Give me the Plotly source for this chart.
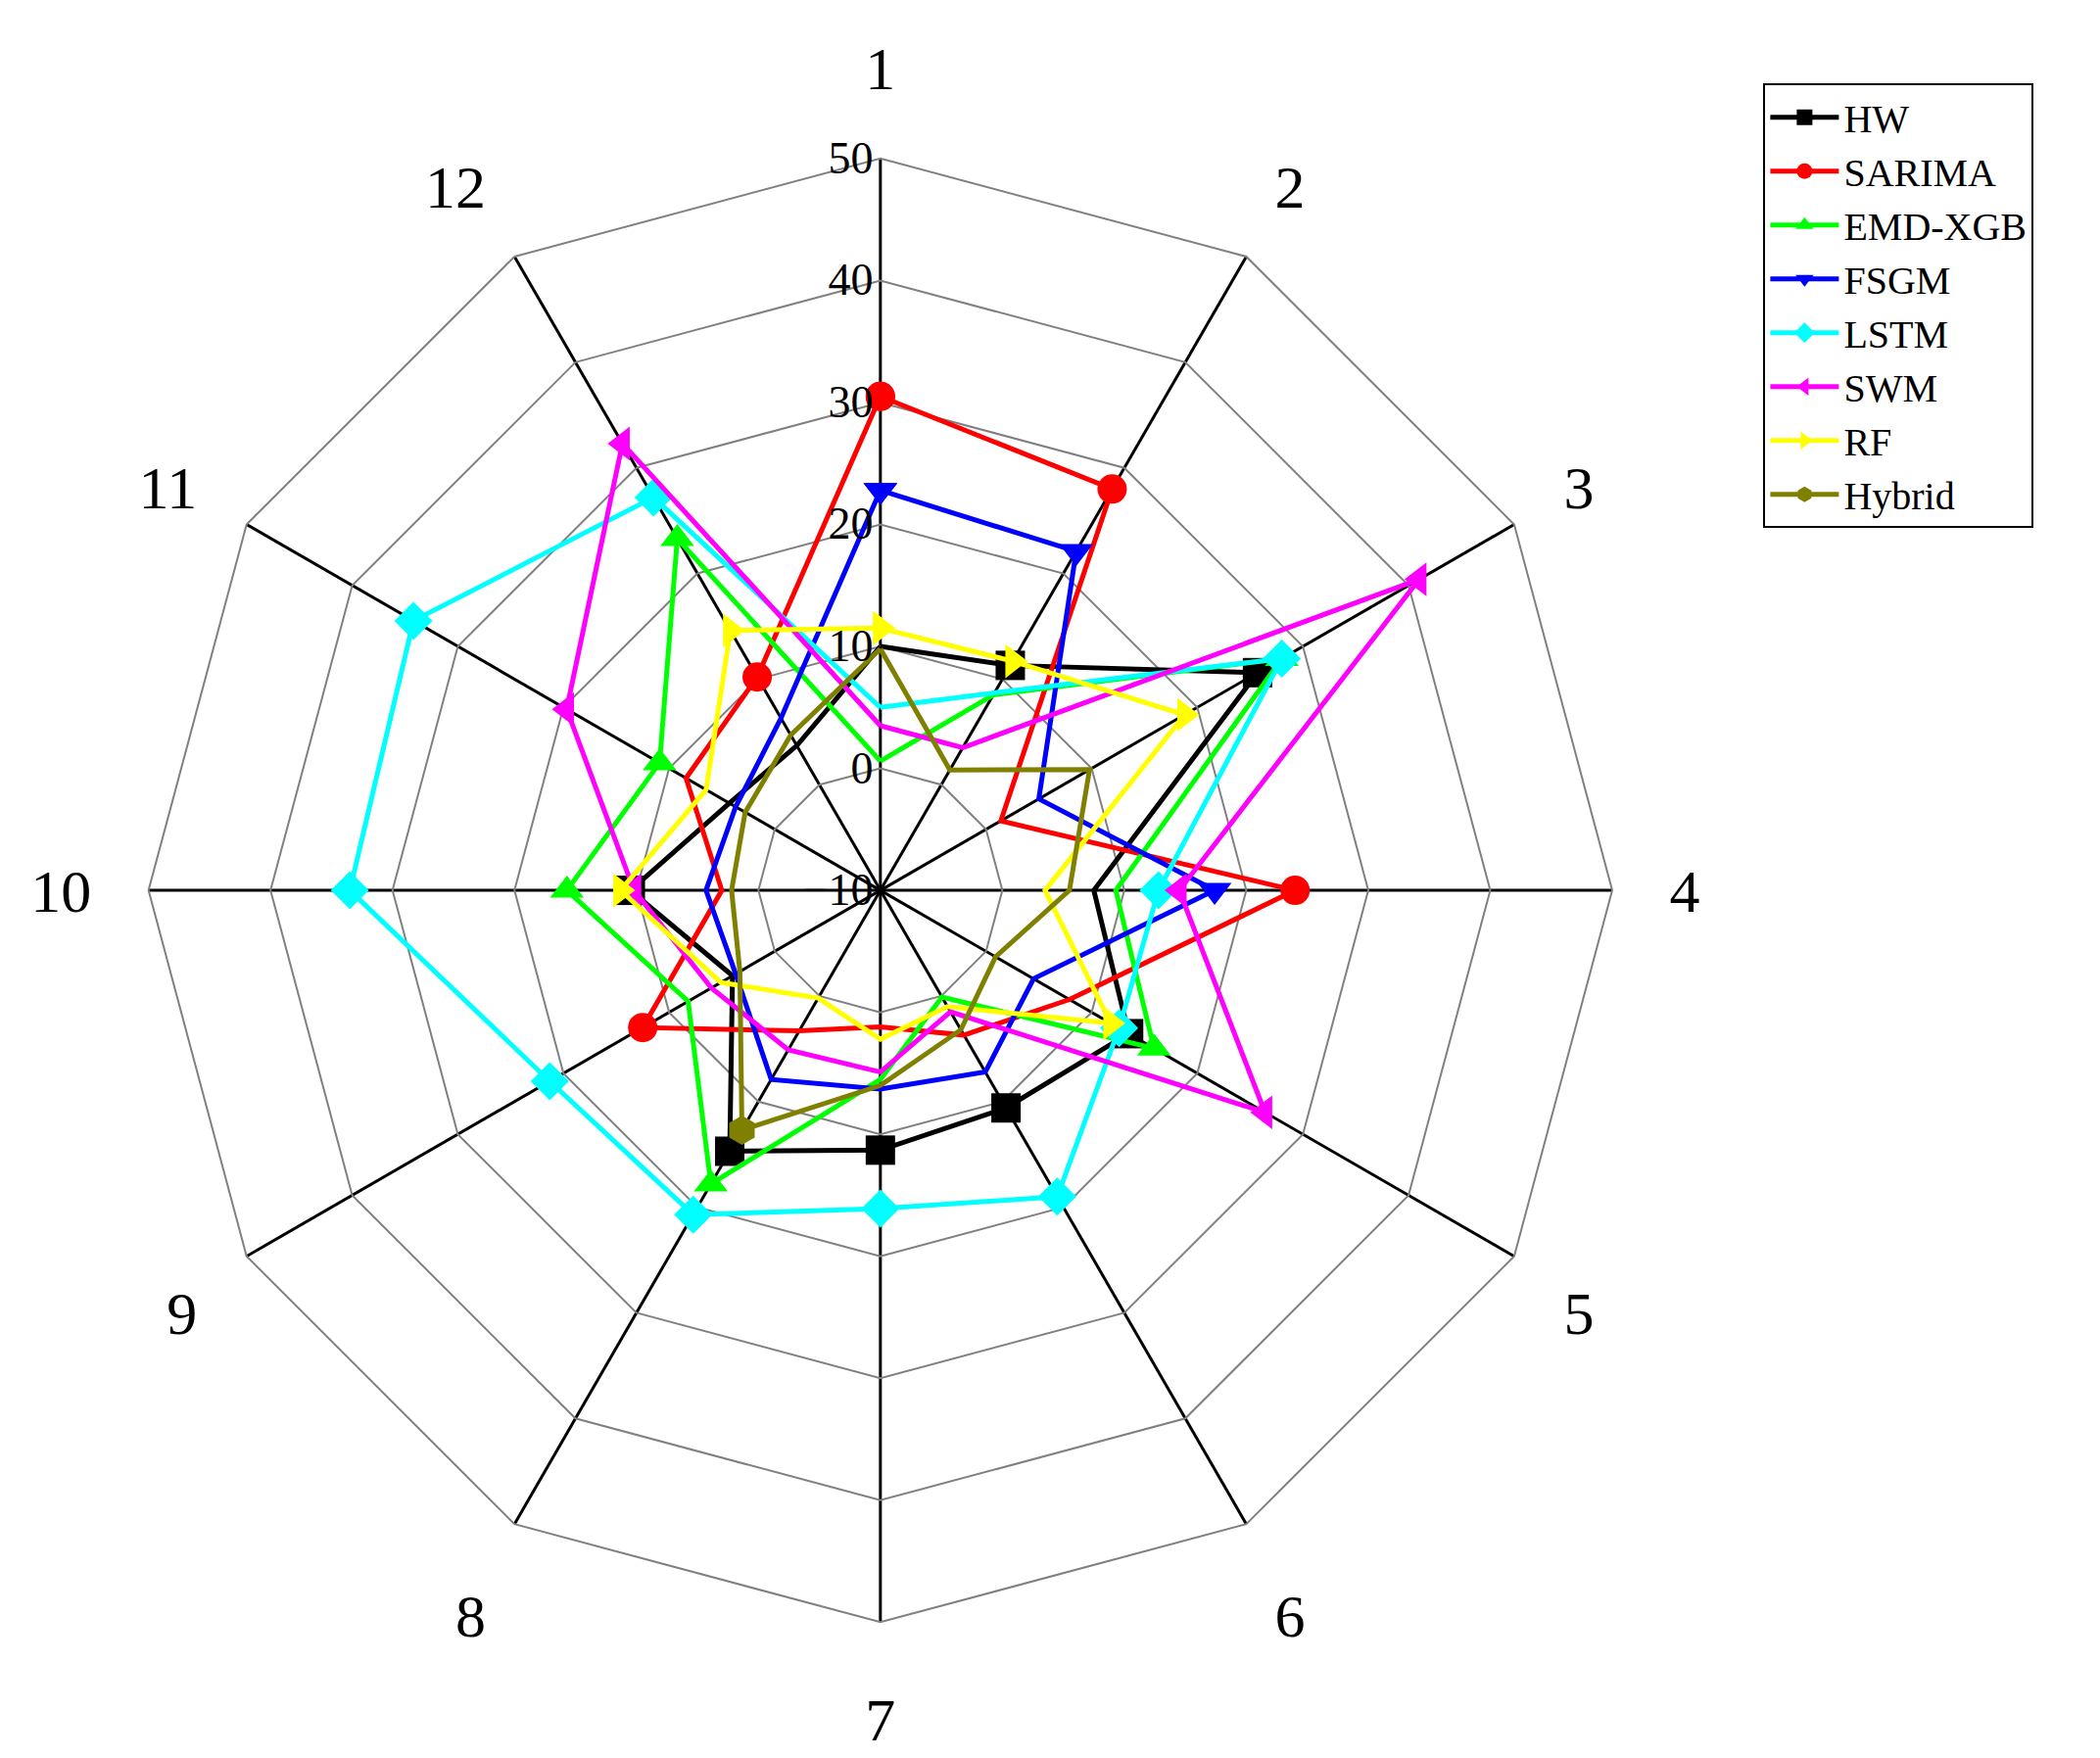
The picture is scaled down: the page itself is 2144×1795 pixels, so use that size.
import plotly.graph_objects as go

categories = [str(i) for i in range(1, 13)]
series_names = ["HW", "SARIMA", "EMD-XGB", "FSGM", "LSTM", "SWM", "RF", "Hybrid"]
hw = [10, 11.3, 25.7, 7.5, 13.5, 10.6, 11.3, 14.7, 4, 10.5, 4.3, 3.7]
sarima = [30.5, 28, 1.4, 24, 7.9, 3.7, 1.2, 3.3, 12.5, 3, 8.4, 10.2]
emd_xgb = [0.6, 8.5, 28, 9.3, 15.9, 0.1, 5.5, 17.8, 8.2, 15.7, 10.9, 23.3]
fsgm = [22.8, 22.1, 5, 17.4, 4.5, 7.2, 6.3, 7.9, 3.7, 4.3, 3.7, 6.3]
lstm = [5, 8.7, 28, 12.8, 12.6, 19, 16.1, 20.7, 21.3, 33.5, 34.2, 27.2]
swm = [3.5, 3.5, 41, 14.5, 26.4, 1.5, 4.9, 5.1, 6, 10.2, 19.7, 32.3]
rf = [11.5, 11.7, 18.8, 3.5, 11.8, 1, 2.2, 0.2, 5.1, 11.3, 6.5, 14.6]
hybrid = [9.8, 1.4, 9.8, 5.5, 0.9, 3.2, 6, 12.7, 3.3, 2.2, 2.8, 4.7]
radial_ticks = [-10, 0, 10, 20, 30, 40, 50]

data = [hw, sarima, emd_xgb, fsgm, lstm, swm, rf, hybrid]
colors = ["#000000", "#ff0000", "#00ff00", "#0000ff", "#00ffff", "#ff00ff", "#ffff00", "#808000"]
symbols = ["square", "circle", "triangle-up", "triangle-down", "diamond", "triangle-left", "triangle-right", "hexagon"]

fig = go.Figure()
for name, vals, c, s in zip(series_names, data, colors, symbols):
    fig.add_trace(go.Scatterpolar(
        r=vals + vals[:1], theta=categories + categories[:1], name=name, mode="lines+markers",
        line=dict(color=c, width=5), marker=dict(symbol=s, size=30, color=c),
        cliponaxis=False,
    ))

fig.update_layout(
    width=2144, height=1795, paper_bgcolor="white", plot_bgcolor="white",
    margin=dict(l=0, r=0, t=0, b=0),
    font=dict(family="Liberation Serif", color="black"),
    polar=dict(
        domain=dict(x=[0.067, 0.764], y=[0.081, 0.915]),
        gridshape="linear", bgcolor="white",
        radialaxis=dict(range=[-10, 50], tickvals=radial_ticks, angle=90, tickangle=90,
                        side="counterclockwise", showline=False, gridcolor="#808080", gridwidth=2,
                        tickfont=dict(size=46, family="Liberation Serif"), ticks=""),
        angularaxis=dict(rotation=90, direction="clockwise", categoryorder="array", categoryarray=categories,
                         gridcolor="black", gridwidth=3, linecolor="#808080", linewidth=2,
                         ticks="outside", ticklen=45, tickcolor="rgba(0,0,0,0)",
                         tickfont=dict(size=62, family="Liberation Serif")),
    ),
    legend=dict(x=0.836, y=0.957, xanchor="left", yanchor="top", bordercolor="black", borderwidth=2,
                font=dict(size=40, family="Liberation Serif"), itemwidth=70, tracegroupgap=0),
)
fig.write_html("out.html")
